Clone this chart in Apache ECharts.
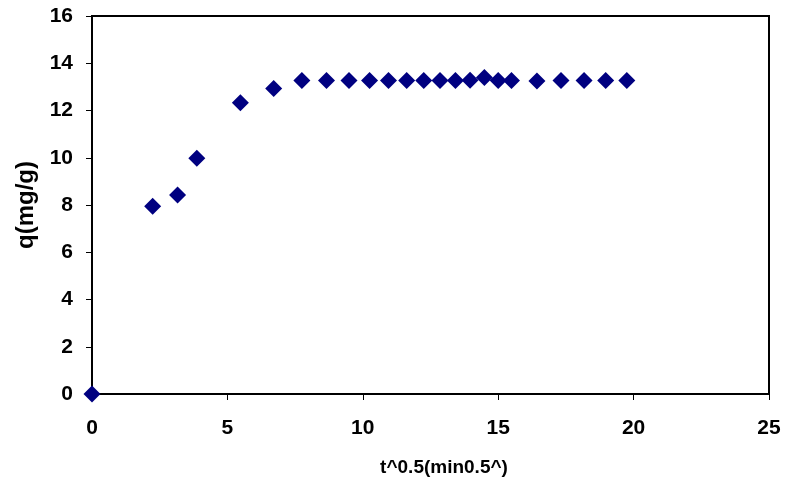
<!DOCTYPE html>
<html>
<head>
<meta charset="utf-8">
<script src="https://cdn.jsdelivr.net/npm/echarts@6/dist/echarts.min.js"></script>
<style>html,body{margin:0;padding:0;background:#fff;}#c{width:785px;height:486px;}</style>
</head>
<body>
<div id="c"></div>
<script>
var xValues = [0, 2.24, 3.16, 3.87, 5.48, 6.71, 7.75, 8.66, 9.49, 10.25, 10.95, 11.62, 12.25, 12.85, 13.42, 13.96, 14.49, 15.0, 15.49, 16.43, 17.32, 18.17, 18.97, 19.75];
var yValues = [0, 7.95, 8.42, 9.98, 12.33, 12.93, 13.27, 13.27, 13.27, 13.27, 13.27, 13.27, 13.27, 13.27, 13.27, 13.28, 13.40, 13.27, 13.27, 13.25, 13.27, 13.27, 13.27, 13.27];
var xTitle = 't^0.5(min0.5^)';
var yTitle = 'q(mg/g)';

var pts = xValues.map(function (x, i) { return [x, yValues[i]]; });
var font = 'Liberation Sans, Arial, sans-serif';
var chart = echarts.init(document.getElementById('c'));
chart.setOption({
  animation: false,
  backgroundColor: '#fff',
  grid: { left: 92, right: 16, top: 16, bottom: 92, show: true, borderColor: '#000', borderWidth: 2, backgroundColor: 'transparent' },
  xAxis: {
    type: 'value', min: 0, max: 25, interval: 5,
    name: xTitle, nameLocation: 'middle', nameGap: 64,
    nameTextStyle: { fontFamily: font, fontWeight: 'bold', fontSize: 19, color: '#000', padding: [0, 0, 0, 27] },
    axisLine: { show: true, lineStyle: { color: '#000', width: 2 } },
    axisTick: { show: true, inside: false, length: 6, lineStyle: { color: '#000', width: 1 } },
    axisLabel: { fontFamily: font, fontWeight: 'bold', fontSize: 21, color: '#000', margin: 24 },
    splitLine: { show: false }
  },
  yAxis: {
    type: 'value', min: 0, max: 16, interval: 2,
    name: yTitle, nameLocation: 'middle', nameGap: 54, nameRotate: 90,
    nameTextStyle: { fontFamily: font, fontWeight: 'bold', fontSize: 24, color: '#000' },
    axisLine: { show: true, lineStyle: { color: '#000', width: 2 } },
    axisTick: { show: true, inside: false, length: 6, lineStyle: { color: '#000', width: 1 } },
    axisLabel: { fontFamily: font, fontWeight: 'bold', fontSize: 21, color: '#000', margin: 19 },
    splitLine: { show: false }
  },
  series: [{
    type: 'scatter',
    data: pts,
    symbol: 'diamond',
    symbolSize: [17, 17],
    itemStyle: { color: '#000080', opacity: 1 },
    clip: false
  }]
});
</script>
</body>
</html>
